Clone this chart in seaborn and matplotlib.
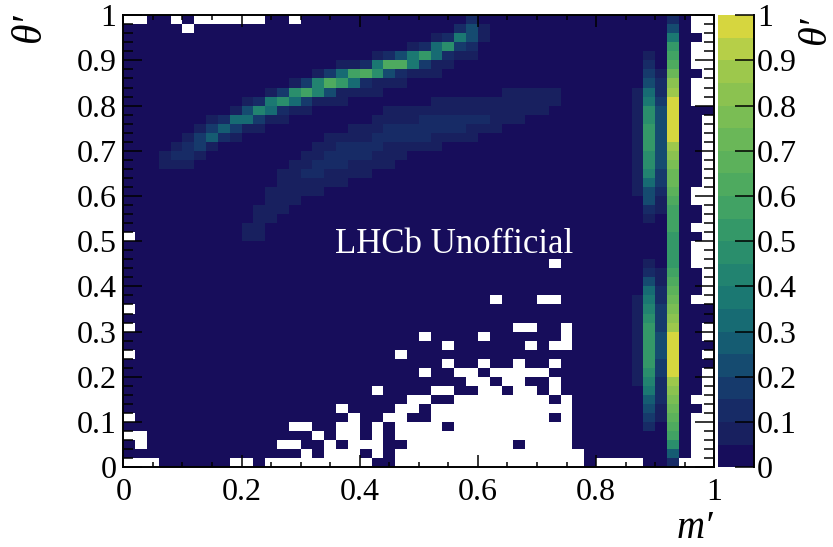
import numpy as np
import matplotlib
matplotlib.use("Agg")
import matplotlib.pyplot as plt
import seaborn as sns
from matplotlib.colors import ListedColormap

n_bins = 50

# colour steps of the palette (bottom to top)
palette_steps = ["#170D5B", "#18205F", "#172B66", "#163A6C", "#154B70", "#155C72", "#176B73",
                 "#1B7872", "#228370", "#2A8E6C", "#349868", "#41A264", "#4EAA5F", "#5CB15B",
                 "#6AB758", "#7ABD54", "#8BC250", "#9DC84C", "#B6CF48", "#D6D63F"]

# narrow bands near m' = 0.9, value in colour steps, theta' bin 0 to 49
band_col43 = [0, 0, 0, 0, 0, 0, 0, 0, 0, 1, 1, 1, 1, 1, 1, 1, 1, 1, 1, 0, 0, 0, 0, 0, 0,
              0, 0, 0, 0, 0, 1, 1, 1, 1, 1, 1, 1, 1, 1, 1, 1, 1, 0, 0, 0, 0, 0, 0, 0, 0]
band_col44 = [0, 0, 0, 0, 2, 3, 4, 5, 7, 8, 9, 10, 10, 10, 10, 10, 9, 8, 7, 6, 4, 2, 1, 0, 0,
              0, 0, 1, 2, 4, 4, 6, 8, 9, 9, 10, 10, 10, 9, 9, 7, 6, 4, 3, 2, 1, 0, 0, 0, 0]
band_col45 = [0, 0, 0, 0, 0, 1, 1, 2, 2, 2, 3, 3, 4, 4, 4, 3, 3, 3, 2, 2, 1, 1, 0, 0, 0,
              0, 0, 0, 1, 1, 2, 3, 3, 4, 4, 4, 4, 4, 4, 4, 3, 2, 2, 1, 0, 0, 0, 0, 0, 0]
band_col46 = [2, 5, 9, 11, 12, 13, 14, 15, 16, 17, 19, 19, 19, 19, 19, 17, 16, 15, 14, 13, 12, 11, 10, 10, 10,
              10, 11, 11, 11, 12, 13, 14, 14, 15, 16, 17, 19, 19, 19, 19, 19, 17, 16, 14, 12, 11, 10, 7, 4, 2]

# arcs: theta' bin -> (first m' bin, colour steps)
upper_arc = {
    33: (3, [1, 1, 1]),
    34: (3, [1, 2, 2, 1]),
    35: (4, [1, 2, 3, 1]),
    36: (5, [1, 3, 5, 2, 1]),
    37: (6, [1, 3, 5, 3, 1, 1]),
    38: (7, [1, 2, 6, 6, 3, 1, 1]),
    39: (9, [1, 4, 8, 6, 2, 1, 1]),
    40: (10, [1, 2, 7, 9, 6, 3, 1, 1, 1]),
    41: (12, [1, 3, 9, 11, 8, 4, 1, 1, 1, 1]),
    42: (14, [1, 3, 8, 12, 10, 6, 2, 1, 1, 1]),
    43: (16, [1, 3, 6, 11, 12, 9, 4, 2, 1, 1, 1]),
    44: (18, [1, 1, 2, 7, 12, 12, 7, 3, 1, 1]),
    45: (21, [1, 2, 4, 7, 10, 6, 2, 1, 1]),
    46: (24, [1, 2, 6, 9, 3, 2]),
    47: (26, [1, 2, 7, 4, 1]),
    48: (28, [2, 4, 1]),
    49: (29, [2]),
}
lower_arc = {
    25: (10, [1, 1]),
    26: (10, [1, 1]),
    27: (11, [1, 1]),
    28: (11, [1, 1, 1]),
    29: (12, [1, 1, 1]),
    30: (12, [1, 1, 1, 1, 1]),
    31: (13, [1, 1, 1, 1, 1, 1]),
    32: (13, [1, 1, 2, 2, 1, 1, 1, 1]),
    33: (14, [1, 1, 2, 2, 2, 1, 1, 1, 1]),
    34: (15, [1, 1, 2, 2, 2, 2, 1, 1, 1]),
    35: (16, [1, 1, 2, 2, 2, 2, 1, 1, 1, 1, 1]),
    36: (17, [1, 1, 1, 1, 2, 2, 2, 2, 2, 1, 1, 1, 1]),
    37: (19, [1, 1, 1, 2, 2, 2, 2, 2, 2, 2, 1, 1, 1]),
    38: (21, [1, 1, 1, 1, 2, 2, 2, 2, 2, 2, 1, 1, 1]),
    39: (22, [1, 1, 1, 1, 1, 1, 1, 1, 1, 1, 1, 1, 1, 1]),
    40: (26, [1, 1, 1, 1, 1, 1, 1, 1, 1, 1, 1]),
    41: (32, [1, 1, 1, 1, 1]),
}

# empty (white) bins: theta' bin -> m' bins
empty_bins = {
    0: [0, 1, 2, 9, 10, 12, 13, 14, 15, 16, 17, 18, 19, 20, 23, 24, 25, 26, 27, 28, 29, 30, 31, 32, 33, 34, 35,
        36, 37, 38, 40, 41, 42, 43, 47, 48, 49],
    1: [15, 17, 18, 19, 21, 23, 24, 25, 26, 27, 28, 29, 30, 31, 32, 33, 34, 35, 36, 37, 38, 48, 49],
    2: [1, 13, 14, 17, 19, 20, 21, 24, 25, 26, 27, 28, 29, 30, 31, 32, 34, 35, 36, 37, 48, 49],
    3: [0, 1, 16, 18, 19, 21, 23, 24, 25, 26, 27, 28, 29, 30, 31, 32, 33, 34, 35, 36, 37, 48, 49],
    4: [14, 15, 18, 19, 21, 23, 24, 25, 26, 28, 29, 30, 31, 32, 33, 34, 35, 36, 37, 48, 49],
    5: [0, 19, 22, 23, 26, 27, 28, 29, 30, 31, 32, 33, 34, 35, 37, 48, 49],
    6: [18, 23, 24, 26, 27, 28, 29, 30, 31, 32, 33, 34, 35, 36, 37, 49],
    7: [24, 25, 28, 29, 30, 31, 32, 33, 34, 35, 37, 48, 49],
    8: [21, 26, 27, 30, 31, 33, 34, 36, 49],
    9: [29, 30, 32, 33, 36, 49],
    10: [25, 28, 29, 31, 32, 33, 34, 35, 49],
    11: [27, 30, 33, 36],
    12: [0, 23, 49],
    13: [27, 34, 36, 37],
    14: [25, 30, 37, 49],
    15: [0, 33, 34, 37, 49],
    17: [0],
    18: [31, 35, 36, 48, 49],
    19: [49],
    20: [49],
    21: [49],
    22: [36, 48, 49],
    23: [48, 49],
    24: [48, 49],
    25: [0, 49],
    26: [48, 49],
    27: [49],
    28: [49],
    29: [48, 49],
    30: [48, 49],
    31: [49],
    32: [49],
    33: [49],
    34: [49],
    35: [49],
    36: [49],
    37: [49],
    38: [49],
    40: [48, 49],
    41: [48, 49],
    42: [48, 49],
    43: [49],
    44: [48, 49],
    45: [48, 49],
    46: [48, 49],
    47: [49],
    48: [5, 48, 49],
    49: [0, 1, 4, 6, 7, 8, 9, 10, 11, 14, 48, 49],
}

m_ticks = [0, 0.2, 0.4, 0.6, 0.8, 1]
theta_ticks = [0, 0.1, 0.2, 0.3, 0.4, 0.5, 0.6, 0.7, 0.8, 0.9, 1]

steps = np.zeros((n_bins, n_bins))
steps[:, 43] = band_col43
steps[:, 44] = band_col44
steps[:, 45] = band_col45
steps[:, 46] = band_col46
for arc in [upper_arc, lower_arc]:
    for row, (start, vals) in arc.items():
        steps[row, start:start + len(vals)] = vals

# middle of each colour step
z = (steps + 0.5) / len(palette_steps)
for row, cols in empty_bins.items():
    z[row, cols] = np.nan

plt.rcParams['font.family'] = ['Liberation Serif', 'DejaVu Serif']

W, H = 833, 547
fig = plt.figure(figsize=(W / 100, H / 100), dpi=100)
ax = fig.add_axes([123.3 / W, (H - 467.2) / H, 591 / W, 452 / H])
cax = fig.add_axes([718 / W, (H - 467.2) / H, 36 / W, 452 / H])

sns.heatmap(z, ax=ax, cbar_ax=cax, cmap=ListedColormap(palette_steps), vmin=0, vmax=1,
            xticklabels=False, yticklabels=False, cbar_kws={'ticks': theta_ticks})
ax.set_ylim(0, n_bins)
ax.set_xlim(0, n_bins)

ax.set_xticks([t * n_bins for t in m_ticks])
ax.set_xticklabels([f"{t:g}" for t in m_ticks], fontsize=23)
ax.set_yticks([t * n_bins for t in theta_ticks])
ax.set_yticklabels([f"{t:g}" for t in theta_ticks], fontsize=23)
ax.set_xticks(np.arange(0, n_bins + 0.1, 2.5), minor=True)
ax.set_yticks(np.arange(0, n_bins + 0.1, 1), minor=True)

ax.tick_params(axis='x', which='major', direction='in', length=8.6, width=1.1, top=True, bottom=True, pad=7.5)
ax.tick_params(axis='x', which='minor', direction='in', length=3.8, width=1.1, top=True, bottom=True)
ax.tick_params(axis='y', which='major', direction='in', length=13.5, width=1.1, left=True, right=True, pad=5)
ax.tick_params(axis='y', which='minor', direction='in', length=7, width=1.1, left=True, right=True)
for s in ax.spines.values():
    s.set_visible(True)
    s.set_linewidth(1.4)
    s.set_color('black')

cbar = ax.collections[0].colorbar
cbar.outline.set_visible(False)
cax.spines['right'].set_visible(True)
cax.spines['right'].set_linewidth(1.4)
cax.set_yticklabels([f"{t:g}" for t in theta_ticks], fontsize=23)
cax.tick_params(axis='y', which='major', direction='in', length=14, width=1.1, right=True, pad=2)
cax.tick_params(axis='y', which='minor', length=0)

fig.text(335 / W, (H - 253) / H, "LHCb Unofficial", color='white', fontsize=25, ha='left', va='baseline')

fig.text(30 / W, (H - 27) / H, "θ′", fontsize=30, style='italic', rotation=90, ha='center', va='center')
fig.text(816 / W, (H - 31) / H, "θ′", fontsize=29, style='italic', rotation=90, ha='center', va='center')
fig.text(695 / W, (H - 529) / H, "m′", fontsize=28, style='italic', ha='center', va='center')

fig.savefig("out.png", dpi=100)
